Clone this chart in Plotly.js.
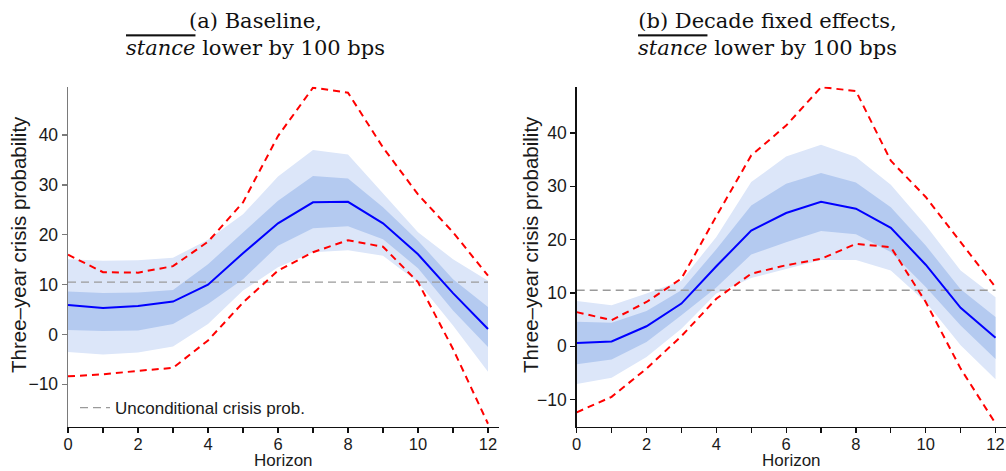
<!DOCTYPE html>
<html>
<head>
<meta charset="utf-8">
<script src="https://cdn.plot.ly/plotly-3.0.1.min.js"></script>
<style>html,body{margin:0;padding:0;background:#fff}#chart{width:1006px;height:471px}</style>
</head>
<body>
<div id="chart"></div>
<script>
// ---- Data ----
const horizon = [0, 1, 2, 3, 4, 5, 6, 7, 8, 9, 10, 11, 12];
const uncondProb = 10.5;

// (a) Baseline
const baseMean    = [5.9, 5.3, 5.7, 6.6, 10.0, 16.3, 22.3, 26.5, 26.6, 22.3, 16.1, 8.3, 1.1];
const baseInnerUp = [8.6, 8.3, 8.4, 8.9, 14.1, 20.5, 26.8, 31.8, 31.3, 25.5, 18.8, 11.1, 5.5];
const baseInnerLo = [0.9, 0.7, 0.8, 2.1, 6.1, 11.1, 17.8, 21.3, 21.7, 19.1, 13.3, 4.8, -2.5];
const baseOuterUp = [15.1, 14.8, 14.9, 15.4, 19.0, 24.1, 31.7, 37.0, 36.1, 28.3, 20.5, 15.1, 10.8];
const baseOuterLo = [-3.5, -4.0, -3.6, -2.4, 2.1, 8.8, 13.5, 16.5, 16.9, 15.8, 10.5, 1.8, -7.5];
const baseRedUp   = [16.0, 12.5, 12.4, 13.7, 18.6, 26.5, 39.8, 49.5, 48.5, 37.5, 28.1, 20.5, 11.8];
const baseRedLo   = [-8.4, -8.0, -7.3, -6.7, -1.2, 6.4, 12.8, 16.5, 18.9, 17.6, 10.5, -2.9, -17.9];

// (b) Decade fixed effects
const feMean    = [0.6, 0.9, 3.75, 8.0, 15.0, 21.7, 25.0, 27.1, 25.8, 22.2, 15.3, 7.2, 1.6];
const feInnerUp = [4.6, 4.4, 6.6, 10.5, 18.2, 26.4, 30.5, 32.5, 30.7, 26.1, 18.9, 10.7, 5.5];
const feInnerLo = [-3.4, -2.5, 0.8, 5.8, 11.0, 17.2, 19.5, 21.6, 21.0, 17.7, 11.1, 3.9, -2.4];
const feOuterUp = [8.5, 7.7, 9.9, 12.3, 20.5, 30.8, 35.6, 37.8, 35.5, 30.3, 22.7, 14.2, 9.2];
const feOuterLo = [-7.1, -5.9, -2.0, 3.3, 9.9, 12.8, 14.5, 16.2, 16.2, 14.2, 8.3, 0.2, -6.2];
const feRedUp   = [6.4, 4.9, 8.3, 12.7, 24.4, 35.8, 41.4, 48.6, 47.9, 34.8, 28.0, 19.5, 11.1];
const feRedLo   = [-12.4, -9.5, -4.2, 1.9, 8.9, 13.6, 15.2, 16.4, 19.2, 18.6, 8.3, -4.2, -14.5];

const xTickVals = [0, 2, 4, 6, 8, 10, 12];
const yTickVals = [-10, 0, 10, 20, 30, 40];
const titleA = "(a) Baseline,<br><span style='text-decoration:overline'><i>stance</i></span> lower by 100 bps";
const titleB = "(b) Decade fixed effects,<br><span style='text-decoration:overline'><i>stance</i></span> lower by 100 bps";
const yTitle = "Three\u2013year crisis probability";
const xTitle = "Horizon";
const legendLabel = "Unconditional crisis prob.";

// ---- Styles ----
const LIGHT = "rgb(220,230,249)";
const DARK = "rgb(180,202,240)";
const BLUE = "#0000ff";
const RED = "#ff0000";
const GREY = "#9a9a9a";

function panelTraces(xa, ya, mean, inUp, inLo, outUp, outLo, redUp, redLo, showLeg) {
  const base = {x: horizon, xaxis: xa, yaxis: ya, mode: "lines", hoverinfo: "skip", showlegend: false};
  return [
    Object.assign({}, base, {y: outLo, line: {width: 0, color: LIGHT}}),
    Object.assign({}, base, {y: outUp, line: {width: 0, color: LIGHT}, fill: "tonexty", fillcolor: LIGHT}),
    Object.assign({}, base, {y: inLo, line: {width: 0, color: DARK}}),
    Object.assign({}, base, {y: inUp, line: {width: 0, color: DARK}, fill: "tonexty", fillcolor: DARK}),
    Object.assign({}, base, {x: [horizon[0], horizon[horizon.length - 1]], y: [uncondProb, uncondProb],
      line: {color: GREY, width: 1.3, dash: "8px,5px"}, name: legendLabel, showlegend: showLeg}),
    Object.assign({}, base, {y: redUp, line: {color: RED, width: 2, dash: "7px,5px"}}),
    Object.assign({}, base, {y: redLo, line: {color: RED, width: 2, dash: "7px,5px"}}),
    Object.assign({}, base, {y: mean, line: {color: BLUE, width: 2}})
  ];
}

const data = [].concat(
  panelTraces("x", "y", baseMean, baseInnerUp, baseInnerLo, baseOuterUp, baseOuterLo, baseRedUp, baseRedLo, true),
  panelTraces("x2", "y2", feMean, feInnerUp, feInnerLo, feOuterUp, feOuterLo, feRedUp, feRedLo, false)
);

const W = 1006, H = 471;
const SANS = "Liberation Sans, Arial, sans-serif";
const yTickFont = {family: SANS, size: 17.5, color: "#1a1a1a"};
const xTickFont = {family: SANS, size: 16.5, color: "#1a1a1a"};

function xAxis(domain, anchor) {
  return {
    domain: domain, anchor: anchor, range: [0, 12.3],
    showgrid: false, zeroline: false, showline: true, linecolor: "#111", linewidth: 1.4,
    ticks: "outside", ticklen: 5, tickwidth: 1.2, tickcolor: "#111",
    tickvals: xTickVals, tickfont: xTickFont, ticklabelstandoff: -3,
    minor: {dtick: 1, tick0: 0, ticks: "outside", ticklen: 5, tickwidth: 1.2, tickcolor: "#111", showgrid: false},
    automargin: false, fixedrange: true
  };
}
function yAxis(domain, anchor, range, lineColor) {
  return {
    domain: domain, anchor: anchor, range: range,
    showgrid: false, zeroline: false, showline: true, linecolor: lineColor, linewidth: 1.4,
    ticks: "outside", ticklen: 5, tickwidth: 1.2, tickcolor: lineColor,
    tickvals: yTickVals, tickfont: yTickFont,
    automargin: false, fixedrange: true
  };
}

const xDomA = [68 / W, 498.5 / W];
const xDomB = [576.7 / W, 1];
const yDom = [(H - 426.7) / H, (H - 86.7) / H];
const yTitleFont = {family: SANS, size: 20.5, color: "#1a1a1a"};
const xTitleFont = {family: SANS, size: 17, color: "#1a1a1a"};
const titleFont = {family: "DejaVu Serif, serif", size: 21, color: "#111"};
function mid(d) { return (d[0] + d[1]) / 2; }

const layout = {
  width: W, height: H,
  margin: {l: 0, r: 0, t: 0, b: 0},
  paper_bgcolor: "#fff", plot_bgcolor: "rgba(0,0,0,0)",
  font: {family: SANS, color: "#1a1a1a"},
  xaxis: xAxis(xDomA, "y"),
  yaxis: yAxis(yDom, "x", [-18.5, 49.7], "#7a7a7a"),
  xaxis2: xAxis(xDomB, "y2"),
  yaxis2: yAxis(yDom, "x2", [-15.1, 48.7], "#111"),
  showlegend: true,
  legend: {
    x: 75 / W, y: (H - 408) / H, xanchor: "left", yanchor: "middle",
    bgcolor: "rgba(0,0,0,0)", borderwidth: 0,
    font: {family: SANS, size: 17, color: "#1a1a1a"}
  },
  annotations: [
    {text: titleA, x: 255 / W, y: 1 - 7 / H, xref: "paper", yref: "paper", xanchor: "center", yanchor: "top",
     showarrow: false, align: "center", font: titleFont},
    {text: titleB, x: 767 / W, y: 1 - 7 / H, xref: "paper", yref: "paper", xanchor: "center", yanchor: "top",
     showarrow: false, align: "center", font: titleFont},
    {text: yTitle, x: 18 / W, y: (H - 245) / H, xref: "paper", yref: "paper", xanchor: "center", yanchor: "middle",
     textangle: -90, showarrow: false, font: yTitleFont},
    {text: yTitle, x: 530 / W, y: (H - 245) / H, xref: "paper", yref: "paper", xanchor: "center", yanchor: "middle",
     textangle: -90, showarrow: false, font: yTitleFont},
    {text: xTitle, x: mid(xDomA), y: 0, xref: "paper", yref: "paper", xanchor: "center", yanchor: "bottom",
     showarrow: false, borderpad: 0, font: xTitleFont},
    {text: xTitle, x: mid(xDomB), y: 0, xref: "paper", yref: "paper", xanchor: "center", yanchor: "bottom",
     showarrow: false, borderpad: 0, font: xTitleFont}
  ]
};

Plotly.newPlot("chart", data, layout, {staticPlot: true, displayModeBar: false});
</script>
</body>
</html>
